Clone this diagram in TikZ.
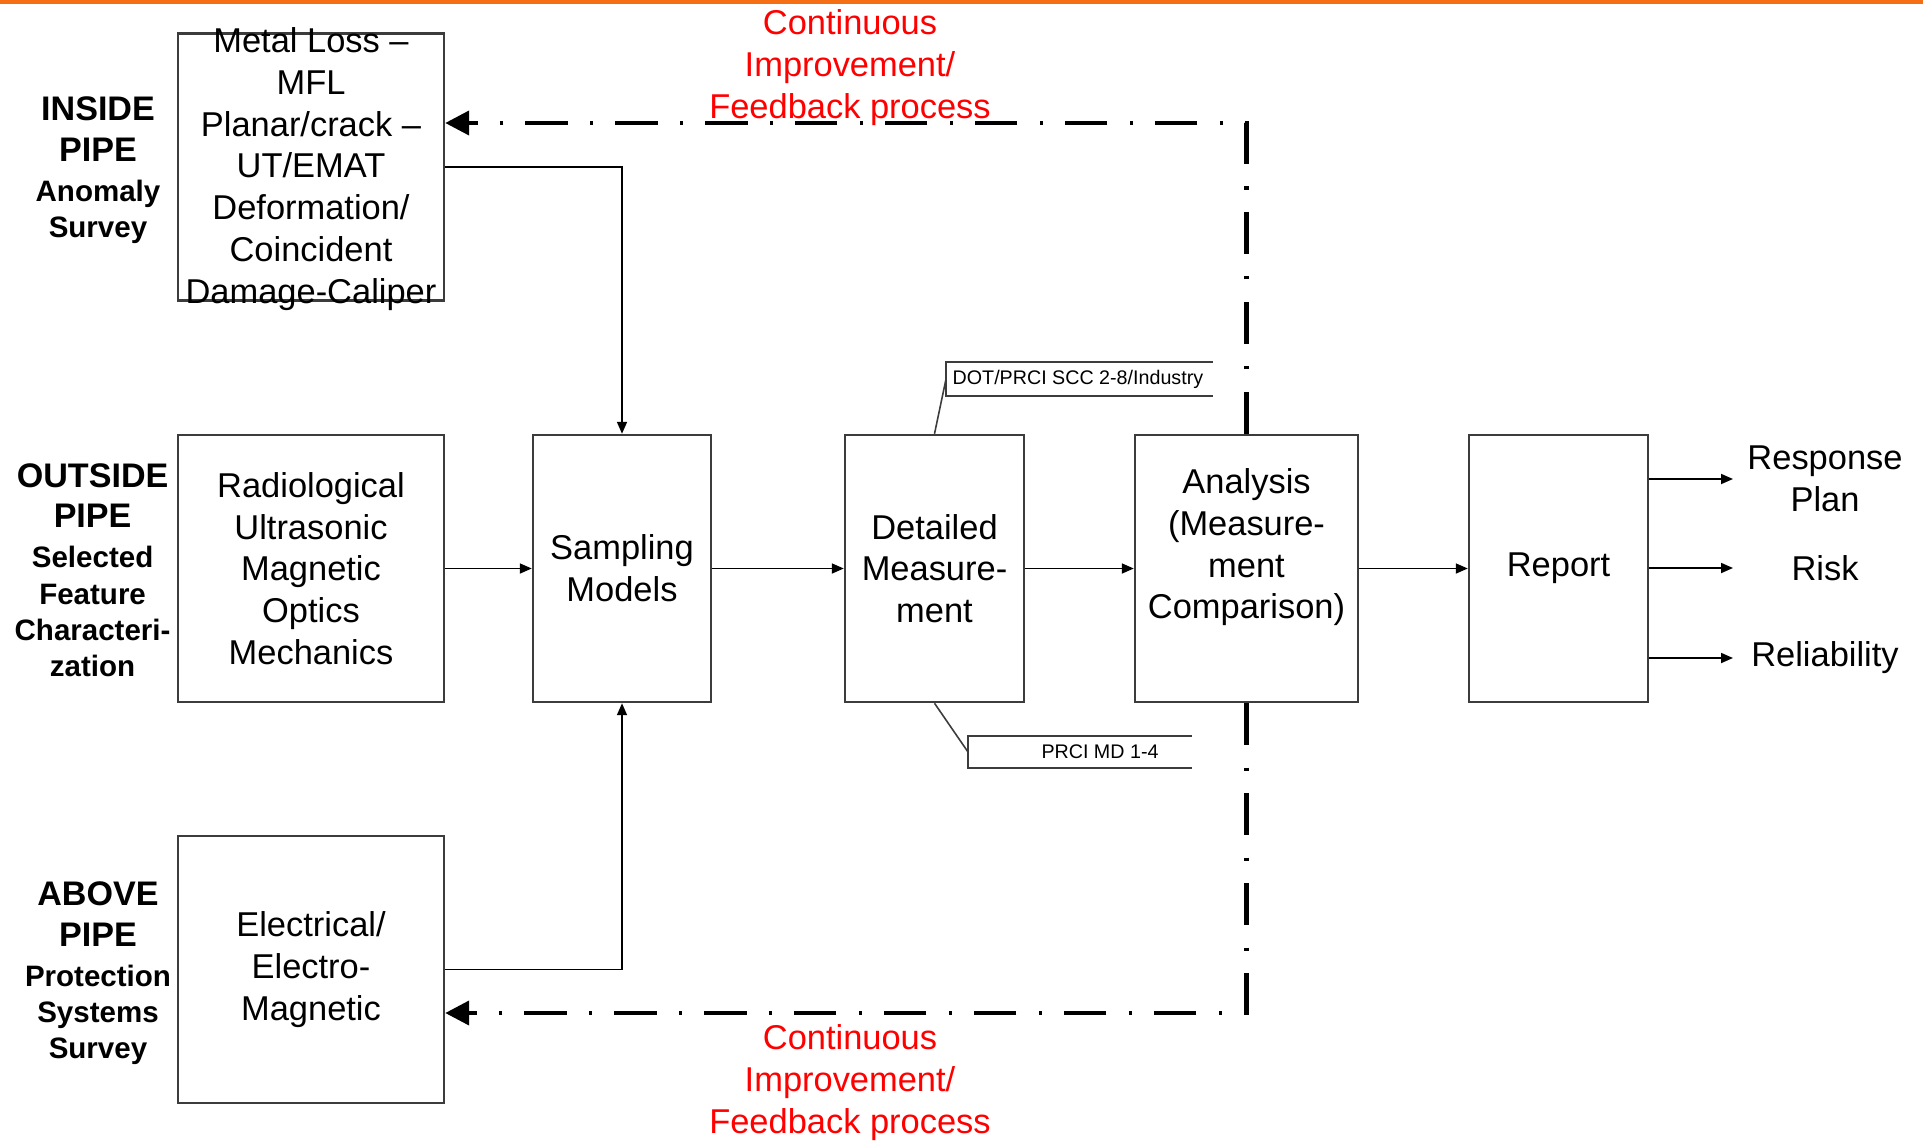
\documentclass[tikz,border=0pt]{standalone}
\usepackage{fontspec}
\setmainfont{Liberation Sans}
\usetikzlibrary{arrows.meta, positioning}

\definecolor{toporange}{RGB}{245,110,20}
\definecolor{boxgray}{RGB}{60,60,60}

\begin{document}
\begin{tikzpicture}[
  box/.style={draw=boxgray, line width=0.7pt, minimum height=2.67cm, inner sep=0pt},
  boxtext/.style={align=center, font=\fontsize{9.8}{11.87}\selectfont, inner sep=0pt},
  side/.style={align=center, font=\fontsize{8.4}{10.3}\selectfont\bfseries, inner sep=0pt},
  redtext/.style={align=center, text=red, font=\fontsize{9.8}{11.95}\selectfont, inner sep=0pt},
  note/.style={font=\fontsize{5.6}{6.7}\selectfont, inner sep=0pt},
  noteline/.style={draw=boxgray, line width=0.45pt},
  flow/.style={-{Triangle[length=0.12cm,width=0.1cm]}, line width=0.5pt},
  feedback/.style={-{Triangle[length=0.24cm,width=0.24cm]}, line width=1.2pt,
    dash pattern=on 12pt off 6.3pt on 1pt off 6.3pt}
]
\newcommand{\hdr}[1]{{\fontsize{9.7}{11.6}\selectfont #1}}
\useasboundingbox (0,0) rectangle (19.23,-11.43);
\fill[toporange] (0,0) rectangle (19.23,-0.035);

% survey boxes on the left
\node[box, minimum width=2.66cm] (inside) at (3.11,-1.67) {};
\node[boxtext] (insidetext) at (3.11,-1.69) {Metal Loss --\\MFL\\Planar/crack --\\UT/EMAT\\Deformation/\\Coincident\\Damage-Caliper};
\node[box, boxtext, minimum width=2.66cm] (radio) at (3.11,-5.685) {Radiological\\Ultrasonic\\Magnetic\\Optics\\Mechanics};
\node[box, boxtext, minimum width=2.66cm] (electric) at (3.11,-9.695) {Electrical/\\Electro-\\Magnetic};

\node[side] (insidelbl) at (0.98,-1.705) {\hdr{INSIDE}\\[1.3pt]\hdr{PIPE}\\[1.1pt]Anomaly\\Survey};
\node[side] (outsidelbl) at (0.926,-5.70) {\hdr{OUTSIDE}\\[1.3pt]\hdr{PIPE}\\[1.1pt]Selected\\Feature\\Characteri-\\zation};
\node[side] (abovelbl) at (0.98,-9.73) {\hdr{ABOVE}\\[1.3pt]\hdr{PIPE}\\[1.1pt]Protection\\Systems\\Survey};

% main chain
\node[box, boxtext, minimum width=1.78cm] (sampling) at (6.22,-5.685) {Sampling\\Models};
\node[box, boxtext, minimum width=1.79cm] (detailed) at (9.345,-5.685) {Detailed\\Measure-\\ment};
\node[box, minimum width=2.23cm] (analysis) at (12.465,-5.685) {};
\node[boxtext] (analysistext) at (12.465,-5.475) {Analysis\\(Measure-\\ment\\Comparison)};
\node[box, boxtext, minimum width=1.79cm] (report) at (15.585,-5.685) {Report};

\node[boxtext] (plan) at (18.25,-4.79) {Response\\Plan};
\node[boxtext] (risk) at (18.25,-5.68) {Risk};
\node[boxtext] (reliab) at (18.25,-6.58) {Reliability};
\coordinate (outend) at (17.33,0);

\draw[flow] (inside.east) -| (sampling.north);
\draw[flow] (electric.east) -| (sampling.south);
\draw[flow] (radio.east) -- (sampling.west);
\draw[flow] (sampling.east) -- (detailed.west);
\draw[flow] (detailed.east) -- (analysis.west);
\draw[flow] (analysis.east) -- (report.west);
\draw[flow] (report.east |- plan) -- (outend |- plan);
\draw[flow] (report.east |- risk) -- (outend |- risk);
\draw[flow] (report.east |- reliab) -- (outend |- reliab);

% references on detailed measurement
\node[note, anchor=west] (dotnote) at (9.52,-3.79) {DOT/PRCI SCC 2-8/Industry};
\coordinate (dotA) at (9.46,-3.62);
\coordinate (dotB) at (9.46,-3.96);
\coordinate (dotC) at (9.46,-3.79);
\draw[noteline] (12.13,-3.62) -- (dotA) -- (dotB) -- (12.13,-3.96);
\draw[noteline] (detailed.north) -- (dotC);

\node[note] (prcinote) at (11.00,-7.52) {PRCI MD 1-4};
\coordinate (prciA) at (9.68,-7.36);
\coordinate (prciB) at (9.68,-7.68);
\coordinate (prciC) at (9.68,-7.52);
\draw[noteline] (11.92,-7.36) -- (prciA) -- (prciB) -- (11.92,-7.68);
\draw[noteline] (detailed.south) -- (prciC);

% feedback loop
\coordinate (fbtop) at (12.465,-1.23);
\coordinate (fbbot) at (12.465,-10.13);
\draw[feedback] (analysis.north) -- (fbtop) -- (fbtop -| inside.east);
\draw[feedback] (analysis.south) -- (fbbot) -- (fbbot -| electric.east);
\node[redtext] (fbtoptext) at (8.50,-0.68) {Continuous\\Improvement/\\Feedback process};
\node[redtext] (fbbottext) at (8.50,-10.83) {Continuous\\Improvement/\\Feedback process};
\end{tikzpicture}
\end{document}
